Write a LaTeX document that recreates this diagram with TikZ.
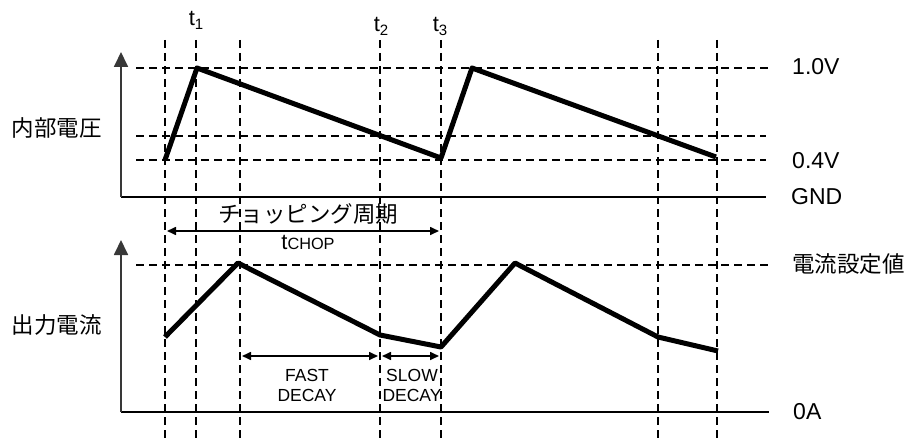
\documentclass[tikz,border=0pt]{standalone}
\usepackage{fontspec}
\setmainfont{Liberation Sans}
\newfontfamily\jp{Noto Sans CJK JP}
\usetikzlibrary{arrows.meta}
\begin{document}
\begin{tikzpicture}[x=1pt,y=-1pt,
  guide/.style={draw=black,line width=1.8pt,dash pattern=on 8pt off 5pt},
  axisline/.style={draw=black!78,line width=1.8pt},
  baseline/.style={draw=black,line width=1.6pt},
  wave/.style={draw=black,line width=5pt,line join=round},
  axisarrow/.style={-{Triangle[length=15pt,width=14pt]}},
  dimarrow/.style={draw=black,line width=1.6pt,{Triangle[length=9pt,width=8pt]}-{Triangle[length=9pt,width=8pt]}},
  lab/.style={inner sep=0pt,font=\fontsize{23}{26}\selectfont},
  jplab/.style={inner sep=0pt,font=\jp\fontsize{22.5}{26}\selectfont},
  tlab/.style={inner sep=0pt,font=\fontsize{22}{24}\selectfont},
  small/.style={inner sep=0pt,align=center,font=\fontsize{17.5}{20}\selectfont}]
\useasboundingbox (0,0) rectangle (912,441);
% vertical guide lines
\foreach \n/\x in {a/165,b/196,c/240,d/380,e/441,f/658,g/717}{
  \coordinate (v\n t) at (\x,40);
  \coordinate (v\n b) at (\x,441);
  \draw[guide] (v\n t) -- (v\n b);
}
% horizontal guides
\coordinate (h1l) at (136,68);  \coordinate (h1r) at (770,68);
\coordinate (h2l) at (136,136); \coordinate (h2r) at (766,136);
\coordinate (h3l) at (136,160); \coordinate (h3r) at (766,160);
\coordinate (h4l) at (136,265); \coordinate (h4r) at (770,265);
\draw[guide] (h1l) -- (h1r);
\draw[guide] (h2l) -- (h2r);
\draw[guide] (h3l) -- (h3r);
\draw[guide] (h4l) -- (h4r);
% axes
\coordinate (o1) at (121,197); \coordinate (y1) at (121,52); \coordinate (x1) at (766,197);
\coordinate (o2) at (121,412); \coordinate (y2) at (121,240); \coordinate (x2) at (769,412);
\draw[baseline] (o1) -- (x1);
\draw[baseline] (o2) -- (x2);
\draw[axisline,axisarrow] (o1) -- (y1);
\draw[axisline,axisarrow] (o2) -- (y2);
% top waveform
\coordinate (p1) at (165,160);
\coordinate (p2) at (197,68);
\coordinate (p3) at (441,158);
\coordinate (p4) at (472,68);
\coordinate (p5) at (716,157);
\draw[wave] (p1) -- (p2) -- (p3) -- (p4) -- (p5);
% bottom waveform
\coordinate (q1) at (165,337);
\coordinate (q2) at (238,263);
\coordinate (q3) at (380,335);
\coordinate (q4) at (441,347);
\coordinate (q5) at (515,263);
\coordinate (q6) at (658,337);
\coordinate (q7) at (718,351);
\draw[wave] (q1) -- (q2) -- (q3) -- (q4) -- (q5) -- (q6) -- (q7);
% dimension arrows
\coordinate (c1) at (167,231); \coordinate (c2) at (439,231);
\draw[dimarrow] (c1) -- (c2);
\coordinate (f1) at (242,356); \coordinate (f2) at (378,356);
\coordinate (s1) at (382,356); \coordinate (s2) at (439,356);
\draw[dimarrow] (f1) -- (f2);
\draw[dimarrow] (s1) -- (s2);
% labels
\node[jplab] (chop) at (308,214) {チョッピング周期};
\node[tlab] (tchop) at (308,242) {t{\fontsize{16.3}{18}\selectfont CHOP}};
\node[small] (fast) at (307,385) {FAST\\DECAY};
\node[small] (slow) at (412,385) {SLOW\\DECAY};
\node[tlab] (t1) at (196,20) {t\raisebox{-4pt}{\fontsize{15}{16}\selectfont 1}};
\node[tlab] (t2) at (381,26) {t\raisebox{-4pt}{\fontsize{15}{16}\selectfont 2}};
\node[tlab] (t3) at (440,26) {t\raisebox{-4pt}{\fontsize{15}{16}\selectfont 3}};
\node[jplab] (nv) at (57,128) {内部電圧};
\node[jplab] (oc) at (57,325) {出力電流};
\node[lab,anchor=west] (v10) at (792,67) {1.0V};
\node[lab,anchor=west] (v04) at (792,161) {0.4V};
\node[lab,anchor=west] (gnd) at (791,197) {GND};
\node[jplab,anchor=west] (iset) at (792,264) {電流設定値};
\node[lab,anchor=west] (za) at (793,412) {0A};
\end{tikzpicture}
\end{document}
